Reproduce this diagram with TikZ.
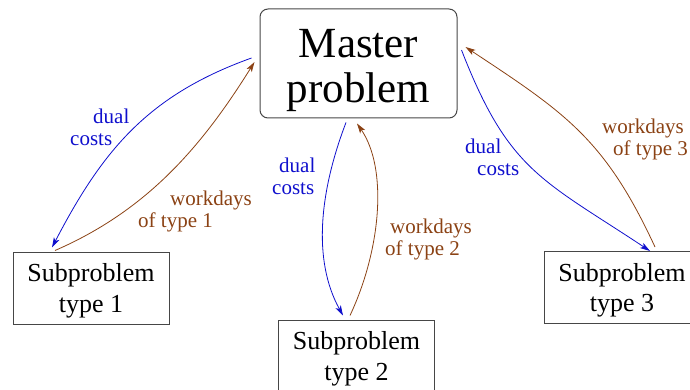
\documentclass[tikz,border=0pt]{standalone}
\usepackage{fontspec}
\setmainfont{Liberation Serif}
\usetikzlibrary{arrows.meta,calc}
\definecolor{dualblue}{RGB}{15,15,205}
\definecolor{workbrown}{RGB}{139,66,20}
\definecolor{boxgray}{RGB}{70,70,70}
\tikzset{
  masterbox/.style={draw=boxgray, line width=1pt, rounded corners=8pt, minimum width=197pt, minimum height=109pt, inner sep=0pt, align=center, font=\fontsize{43}{45}\selectfont},
  subbox/.style={draw=boxgray, line width=1pt, minimum width=156pt, minimum height=72pt, inner sep=0pt, align=center, font=\fontsize{26}{30.5}\selectfont},
  lab/.style={inner sep=0pt, anchor=north west, align=left, font=\fontsize{21}{22.5}\selectfont},
  dualarrow/.style={draw=dualblue, line width=0.8pt, -{Stealth[length=10pt,width=6pt,inset=2.5pt]}},
  workarrow/.style={draw=workbrown, line width=0.8pt, -{Stealth[length=10pt,width=6pt,inset=2.5pt]}},
}
\begin{document}
\begin{tikzpicture}[x=1pt,y=-1pt]
\useasboundingbox (0,0) rectangle (690,390);
\clip (0,0) rectangle (690,390);
\node[masterbox] (master) at (358.5,63.5) {\rule{0pt}{43pt}Master\\problem};
\node[subbox] (sub1) at (91,288) {\rule{0pt}{23.6pt}Subproblem\\type 1};
\node[subbox] (sub2) at (356.5,356) {\rule{0pt}{23.6pt}Subproblem\\type 2};
\node[subbox] (sub3) at (622,287.5) {\rule{0pt}{23.6pt}Subproblem\\type 3};

\draw[dualarrow] ($(master.west)+(-8,-5.5)$) .. controls +(-103,37) and +(51,-98) .. ($(sub1.north)+(-39,-4)$);
\draw[workarrow] ($(sub1.north)+(-36,-1)$) .. controls +(92,-40) and +(-53,85) .. ($(master.west)+(-5,-1.5)$);
\draw[dualarrow] ($(master.south)+(-12.5,4)$) .. controls +(-26,68) and +(-31,-56) .. ($(sub2.north)+(-13.5,-4)$);
\draw[workarrow] ($(sub2.north)+(-6.5,-4)$) .. controls +(31,-66) and +(31,45) .. ($(master.south)+(-1.5,5)$);
\draw[dualarrow] ($(master.east)+(4,-13.5)$) .. controls +(47,121) and +(-108,-71.5) .. ($(sub3.north)+(28,0)$);
\draw[workarrow] ($(sub3.north)+(33,-4)$) .. controls +(-50,-108) and +(100,66) .. ($(master.east)+(8,-16.5)$);

\node[lab, text=dualblue] (l1) at (70,108.7) {\hspace*{23pt}dual\\costs};
\node[lab, text=dualblue] (l2) at (272,157.7) {\hspace*{7pt}dual\\costs};
\node[lab, text=dualblue] (l3) at (465,138.7) {dual\\\hspace*{12pt}costs};
\node[lab, text=workbrown] (w1) at (138,190.7) {\hspace*{32pt}workdays\\of type 1};
\node[lab, text=workbrown] (w2) at (385,218.7) {\hspace*{5pt}workdays\\of type 2};
\node[lab, text=workbrown] (w3) at (602,118.7) {workdays\\\hspace*{11pt}of type 3};
\end{tikzpicture}
\end{document}
